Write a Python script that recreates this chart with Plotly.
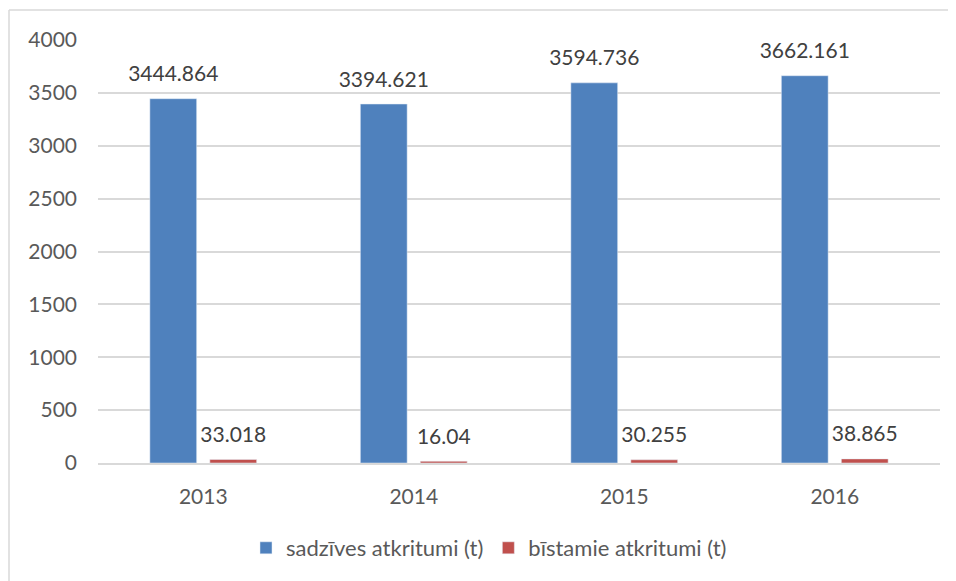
import plotly.graph_objects as go

years = ["2013", "2014", "2015", "2016"]
household = [3444.864, 3394.621, 3594.736, 3662.161]
hazardous = [33.018, 16.04, 30.255, 38.865]
household_labels = ["3444.864", "3394.621", "3594.736", "3662.161"]
hazardous_labels = ["33.018", "16.04", "30.255", "38.865"]
y_ticks = [0, 500, 1000, 1500, 2000, 2500, 3000, 3500, 4000]

TXT = "#595959"
LBL = "#404040"
FONT = "Lato"

fig = go.Figure()
series = [
    ("sadzīves atkritumi (t)", household, household_labels, "#4F81BD", "g1"),
    ("bīstamie atkritumi (t)", hazardous, hazardous_labels, "#C0504D", "g2"),
]
for name, vals, labels, color, grp in series:
    fig.add_trace(go.Bar(
        name=name, x=years, y=vals, marker=dict(color=color),
        offsetgroup=grp, alignmentgroup="a",
    ))
for name, vals, labels, color, grp in series:
    fig.add_trace(go.Scatter(
        x=years, y=vals, mode="markers+text", text=labels,
        textposition="top center",
        textfont=dict(family=FONT, size=21, color=LBL),
        marker=dict(size=18, opacity=0),
        offsetgroup=grp, alignmentgroup="a",
        showlegend=False, hoverinfo="skip", cliponaxis=False,
    ))

# figure is drawn 8px in from the page corner (body margin)
W, H = 948, 573
L, R, T, B = 90, 16, 32, 118
pw, ph = W - L - R, H - T - B
bx = (1 - L) / pw
by = 1 + (T - 2) / ph

fig.update_layout(
    width=W, height=H,
    margin=dict(l=L, r=R, t=T, b=B),
    paper_bgcolor="white", plot_bgcolor="white",
    barmode="group", bargap=0.43, bargroupgap=0.22,
    scattermode="group", scattergap=0.43,
    font=dict(family=FONT, size=21, color=TXT),
    showlegend=True,
    legend=dict(orientation="h", x=(481 - L) / pw, xanchor="center",
                y=(T + ph - 540) / ph, yanchor="middle",
                font=dict(family=FONT, size=22, color=TXT),
                itemwidth=30, traceorder="normal"),
    xaxis=dict(showgrid=False, showline=True, linecolor="#D9D9D9", linewidth=1.5,
               ticks="", ticklabelstandoff=14,
               tickfont=dict(family=FONT, size=21, color=TXT)),
    yaxis=dict(range=[0, 4000], tickvals=y_ticks, showgrid=True,
               gridcolor="#D9D9D9", gridwidth=1.5, zeroline=False,
               showline=False, ticks="", ticklabelstandoff=20,
               tickfont=dict(family=FONT, size=21, color=TXT)),
    shapes=[
        dict(type="line", xref="paper", yref="paper", x0=bx, x1=bx, y0=-0.5, y1=by,
             line=dict(color="#D9D9D9", width=1.5)),
        dict(type="line", xref="paper", yref="paper", x0=bx, x1=1.2, y0=by, y1=by,
             line=dict(color="#D9D9D9", width=1.5)),
    ],
)

fig.write_html("out.html")
